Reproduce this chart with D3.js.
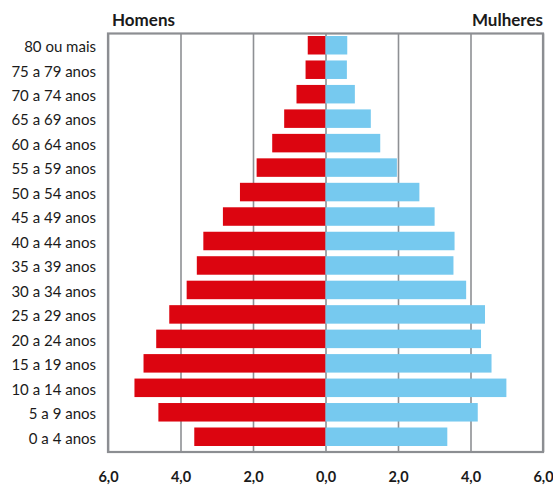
<!DOCTYPE html>
<html>
<head>
<meta charset="utf-8">
<script src="https://cdn.jsdelivr.net/npm/d3@7"></script>
<style>
  body { margin: 0; background: #fff; }
  text { font-family: Lato, "Open Sans", sans-serif; fill: #1a1a1a; }
</style>
</head>
<body>
<div id="chart"></div>
<script>
// DATA (percent of population)
var ageGroups = ["80 ou mais", "75 a 79 anos", "70 a 74 anos", "65 a 69 anos", "60 a 64 anos",
    "55 a 59 anos", "50 a 54 anos", "45 a 49 anos", "40 a 44 anos", "35 a 39 anos",
    "30 a 34 anos", "25 a 29 anos", "20 a 24 anos", "15 a 19 anos", "10 a 14 anos",
    "5 a 9 anos", "0 a 4 anos"];
var homens = [0.49, 0.55, 0.80, 1.14, 1.47, 1.90, 2.36, 2.83, 3.37, 3.55,
    3.83, 4.31, 4.67, 5.02, 5.27, 4.61, 3.62];
var mulheres = [0.60, 0.59, 0.81, 1.25, 1.51, 1.97, 2.59, 3.01, 3.56, 3.53,
    3.88, 4.40, 4.29, 4.58, 4.99, 4.20, 3.36];
var tickValues = [-6, -4, -2, 0, 2, 4, 6];

var svgWidth = 553;
var svgHeight = 486;
var plot = { left: 108, right: 543, top: 33.5, bottom: 452 };

var svg = d3.select("#chart")
    .append("svg")
    .attr("width", svgWidth)
    .attr("height", svgHeight);

// Scales
var x = d3.scaleLinear()
    .domain([-6, 6])
    .range([plot.left, plot.right]);

var y = d3.scaleBand()
    .domain(ageGroups)
    .range([36, 446])
    .paddingInner(0.244)
    .paddingOuter(0);

var fmt = d3.format(".1f");

// Gridlines
svg.append("g")
    .attr("transform", "translate(0," + plot.bottom + ")")
    .call(d3.axisBottom(x).tickValues(tickValues).tickSize(-(plot.bottom - plot.top)).tickFormat(""))
    .call(g => g.select(".domain").remove())
    .call(g => g.selectAll("line").attr("stroke", "#8e9094").attr("stroke-width", 1.6));

// Bars - men (left)
svg.append("g")
    .selectAll("rect")
    .data(homens)
    .join("rect")
    .attr("x", d => x(-d))
    .attr("y", (d, i) => y(ageGroups[i]))
    .attr("width", d => x(0) - x(-d))
    .attr("height", y.bandwidth())
    .attr("fill", "#dc0510");

// Bars - women (right)
svg.append("g")
    .selectAll("rect")
    .data(mulheres)
    .join("rect")
    .attr("x", x(0))
    .attr("y", (d, i) => y(ageGroups[i]))
    .attr("width", d => x(d) - x(0))
    .attr("height", y.bandwidth())
    .attr("fill", "#76c9ef");

// Frame
svg.append("rect")
    .attr("x", plot.left)
    .attr("y", plot.top)
    .attr("width", plot.right - plot.left)
    .attr("height", plot.bottom - plot.top)
    .attr("fill", "none")
    .attr("stroke", "#8c8e92")
    .attr("stroke-width", 2.2);

// X tick labels
svg.append("g")
    .attr("transform", "translate(0," + plot.bottom + ")")
    .call(d3.axisBottom(x).tickValues(tickValues).tickSize(0).tickPadding(20)
        .tickFormat(d => fmt(Math.abs(d)).replace(".", ",")))
    .call(g => g.select(".domain").remove())
    .call(g => g.selectAll("text")
        .style("font-family", "Lato, sans-serif")
        .style("font-size", "14.5px")
        .style("font-weight", "bold")
        .attr("fill", "#1a1a1a"));

// Age labels
svg.append("g")
    .attr("transform", "translate(" + plot.left + ",2)")
    .call(d3.axisLeft(y).tickSize(0).tickPadding(12))
    .call(g => g.select(".domain").remove())
    .call(g => g.selectAll("text")
        .style("font-family", "Lato, sans-serif")
        .style("font-size", "15px")
        .attr("fill", "#1a1a1a"));

// Titles
svg.append("text")
    .attr("x", 112)
    .attr("y", 26)
    .style("font-size", "17px")
    .style("font-weight", "bold")
    .text("Homens");

svg.append("text")
    .attr("x", 543)
    .attr("y", 26)
    .attr("text-anchor", "end")
    .style("font-size", "17px")
    .style("font-weight", "bold")
    .text("Mulheres");
</script>
</body>
</html>
